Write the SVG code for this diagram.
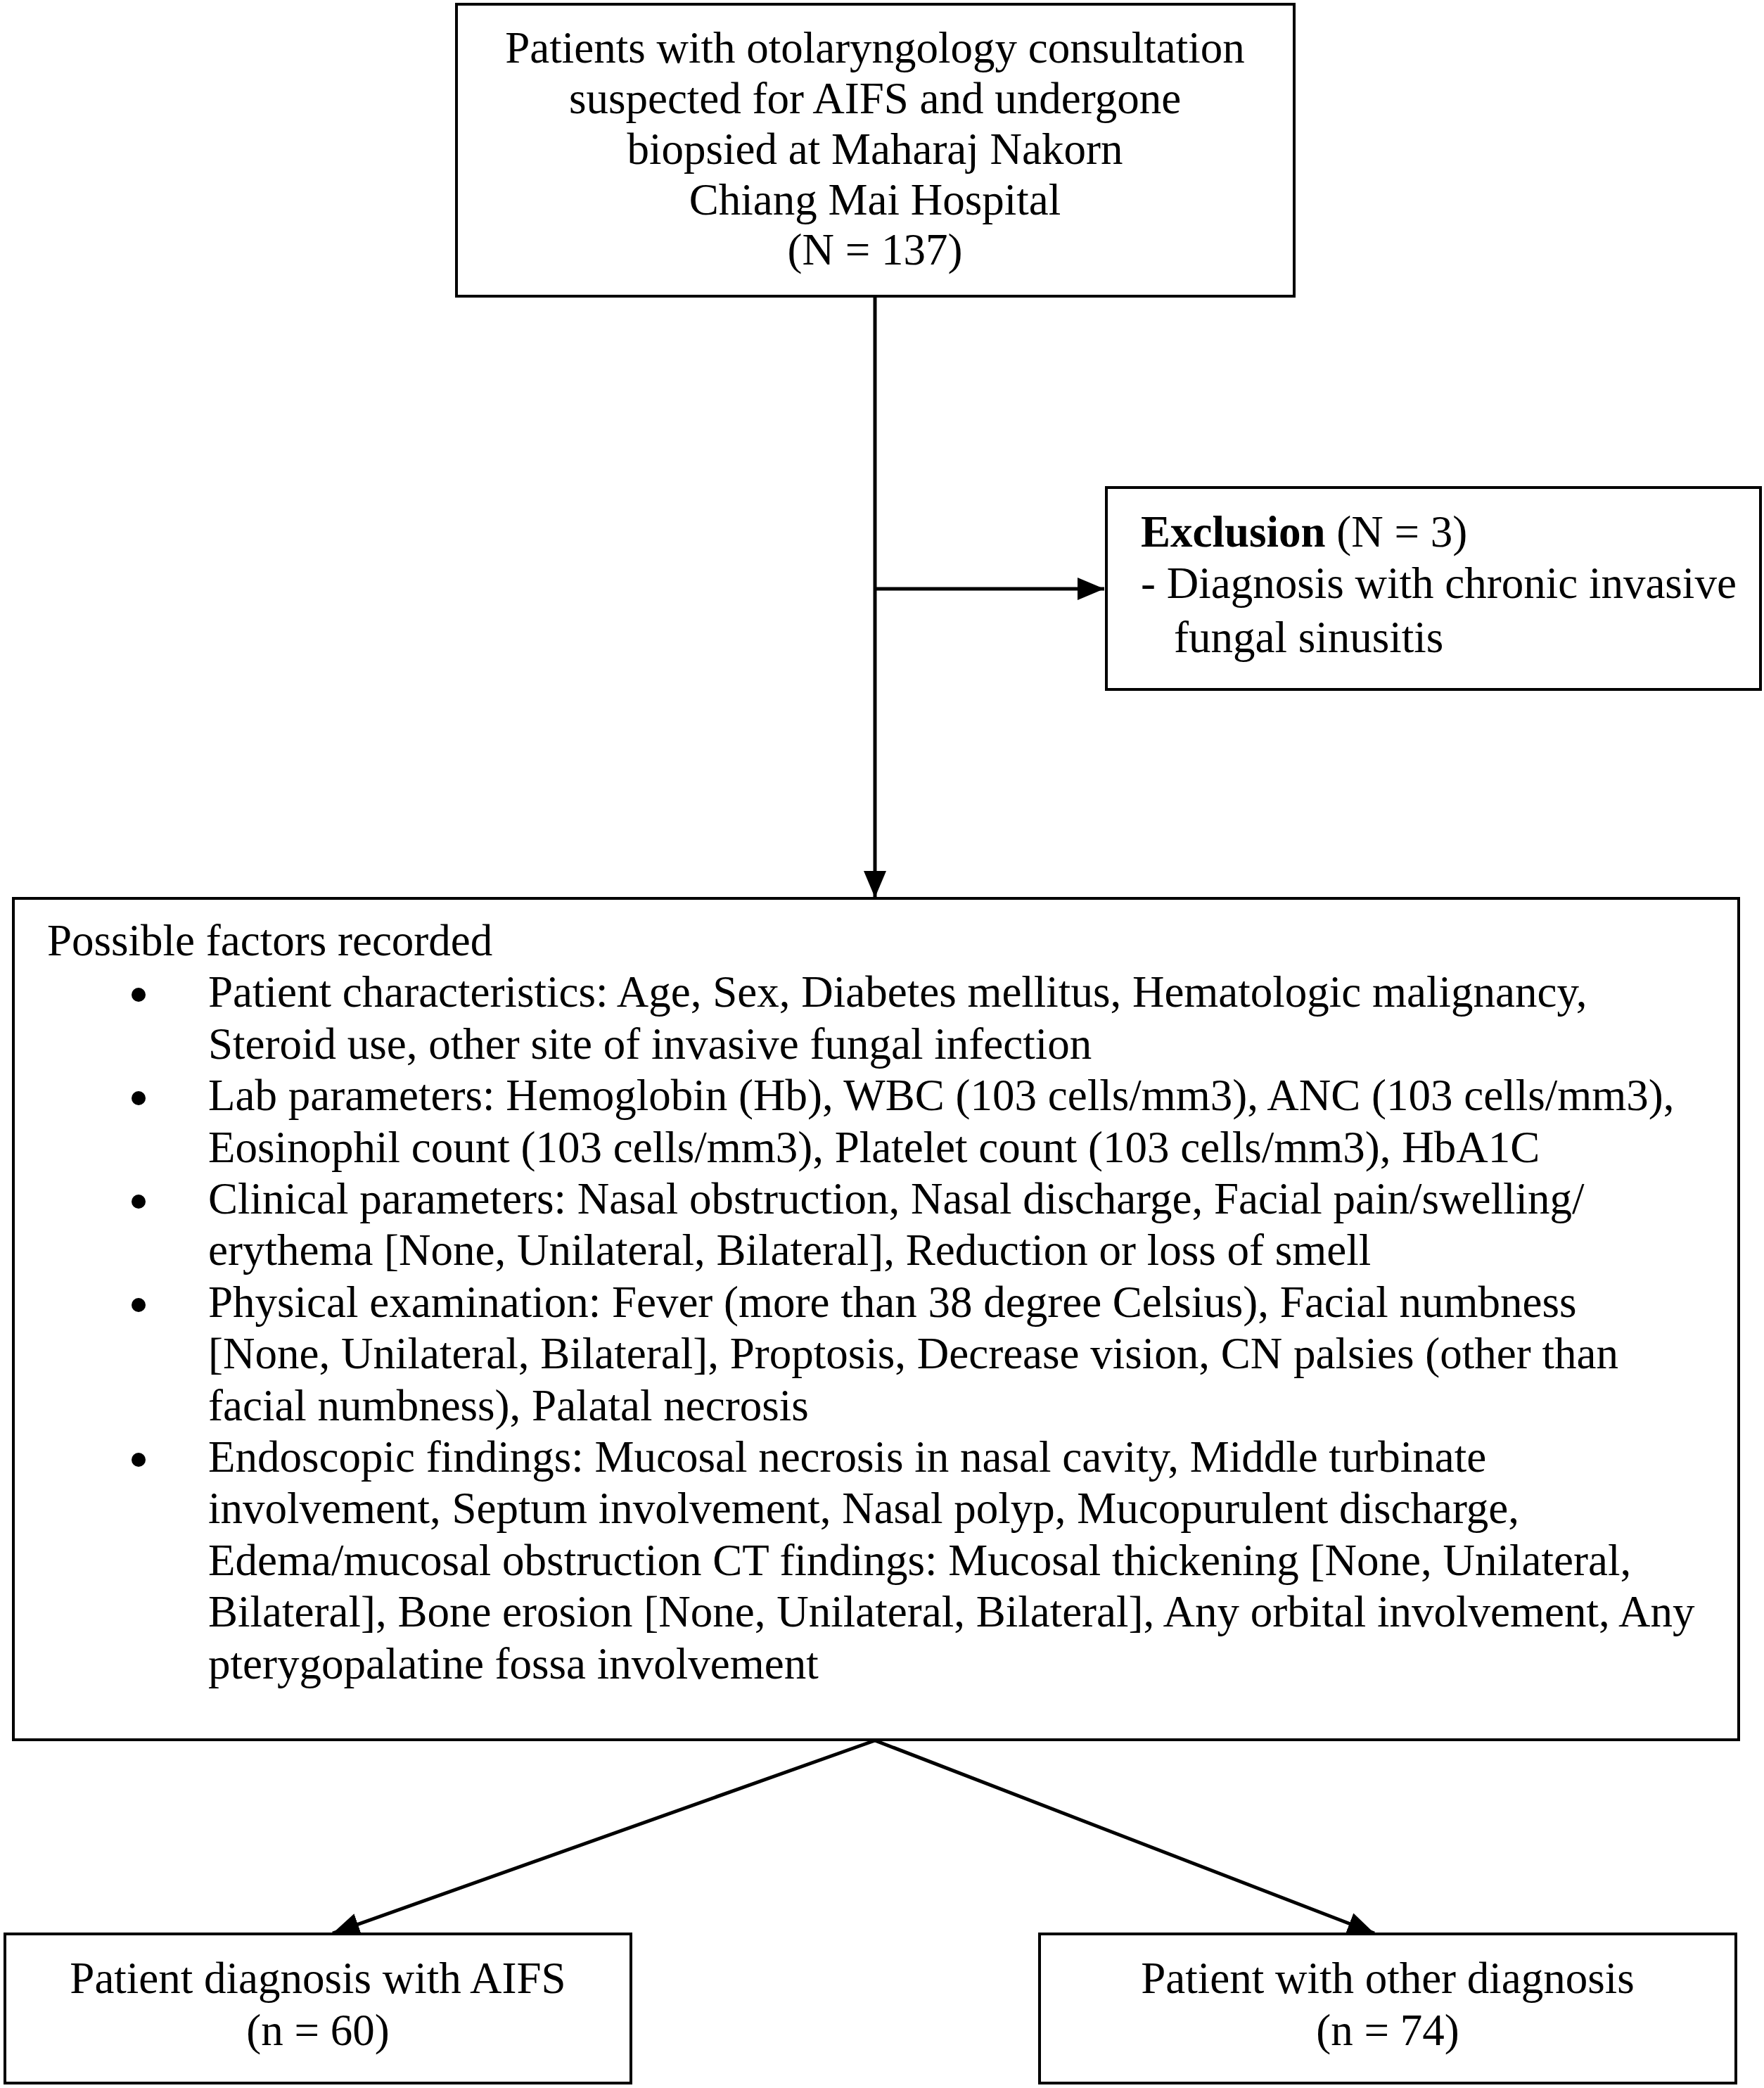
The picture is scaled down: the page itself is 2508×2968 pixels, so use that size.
<svg xmlns="http://www.w3.org/2000/svg" width="2508" height="2968" viewBox="0 0 2508 2968">
<style>
.box{fill:#fff;stroke:#000;stroke-width:4}
.t{font-family:"Liberation Serif","Times New Roman",serif;font-size:63px;fill:#000}
.c{text-anchor:middle}
.ln{stroke:#000;stroke-width:5;fill:none}
.b{fill:#000}
</style>
<defs>
<marker id="ah" markerUnits="userSpaceOnUse" markerWidth="40" markerHeight="34" refX="38" refY="16" orient="auto">
<path d="M0,0 L38,16 L0,32 z" fill="#000"/>
</marker>
</defs>
<rect width="2508" height="2968" fill="#fff"/>
<g id="connectors">
<line class="ln" x1="1244" y1="420" x2="1244" y2="1276" marker-end="url(#ah)"/>
<line class="ln" x1="1244" y1="837" x2="1570" y2="837" stroke-width="7" marker-end="url(#ah)"/>
<line class="ln" x1="1244" y1="2474" x2="473" y2="2748" stroke-width="6" marker-end="url(#ah)"/>
<line class="ln" x1="1244" y1="2474" x2="1954" y2="2748" stroke-width="6" marker-end="url(#ah)"/>
</g>
<g id="node-start">
<rect class="box" x="649" y="6" width="1191" height="415"/>
<text class="t c" x="1244" y="89">Patients with otolaryngology consultation</text>
<text class="t c" x="1244" y="161">suspected for AIFS and undergone</text>
<text class="t c" x="1244" y="233">biopsied at Maharaj Nakorn</text>
<text class="t c" x="1244" y="305">Chiang Mai Hospital</text>
<text class="t c" x="1244" y="376">(N = 137)</text>
</g>
<g id="node-exclusion">
<rect class="box" x="1573" y="693" width="930" height="287"/>
<text class="t" x="1622" y="777"><tspan font-weight="bold">Exclusion</tspan> (N = 3)</text>
<text class="t" x="1622" y="850">- Diagnosis with chronic invasive</text>
<text class="t" x="1669" y="927">fungal sinusitis</text>
</g>
<g id="node-factors">
<rect class="box" x="19" y="1277" width="2453" height="1196"/>
<text class="t" x="67" y="1358">Possible factors recorded</text>
<circle class="b" cx="197" cy="1414" r="10"/>
<text class="t" x="296" y="1431">Patient characteristics: Age, Sex, Diabetes mellitus, Hematologic malignancy,</text>
<text class="t" x="296" y="1505">Steroid use, other site of invasive fungal infection</text>
<circle class="b" cx="197" cy="1561" r="10"/>
<text class="t" x="296" y="1578">Lab parameters: Hemoglobin (Hb), WBC (103 cells/mm3), ANC (103 cells/mm3),</text>
<text class="t" x="296" y="1652">Eosinophil count (103 cells/mm3), Platelet count (103 cells/mm3), HbA1C</text>
<circle class="b" cx="197" cy="1708" r="10"/>
<text class="t" x="296" y="1725">Clinical parameters: Nasal obstruction, Nasal discharge, Facial pain/swelling/</text>
<text class="t" x="296" y="1798">erythema [None, Unilateral, Bilateral], Reduction or loss of smell</text>
<circle class="b" cx="197" cy="1855" r="10"/>
<text class="t" x="296" y="1872">Physical examination: Fever (more than 38 degree Celsius), Facial numbness</text>
<text class="t" x="296" y="1945">[None, Unilateral, Bilateral], Proptosis, Decrease vision, CN palsies (other than</text>
<text class="t" x="296" y="2019">facial numbness), Palatal necrosis</text>
<circle class="b" cx="197" cy="2075" r="10"/>
<text class="t" x="296" y="2092">Endoscopic findings: Mucosal necrosis in nasal cavity, Middle turbinate</text>
<text class="t" x="296" y="2165">involvement, Septum involvement, Nasal polyp, Mucopurulent discharge,</text>
<text class="t" x="296" y="2239">Edema/mucosal obstruction CT findings: Mucosal thickening [None, Unilateral,</text>
<text class="t" x="296" y="2312">Bilateral], Bone erosion [None, Unilateral, Bilateral], Any orbital involvement, Any</text>
<text class="t" x="296" y="2386">pterygopalatine fossa involvement</text>
</g>
<g id="node-aifs">
<rect class="box" x="7" y="2749" width="890" height="212"/>
<text class="t c" x="452" y="2833">Patient diagnosis with AIFS</text>
<text class="t c" x="452" y="2907">(n = 60)</text>
</g>
<g id="node-other">
<rect class="box" x="1478" y="2749" width="990" height="212"/>
<text class="t c" x="1973" y="2833">Patient with other diagnosis</text>
<text class="t c" x="1973" y="2907">(n = 74)</text>
</g>
</svg>
